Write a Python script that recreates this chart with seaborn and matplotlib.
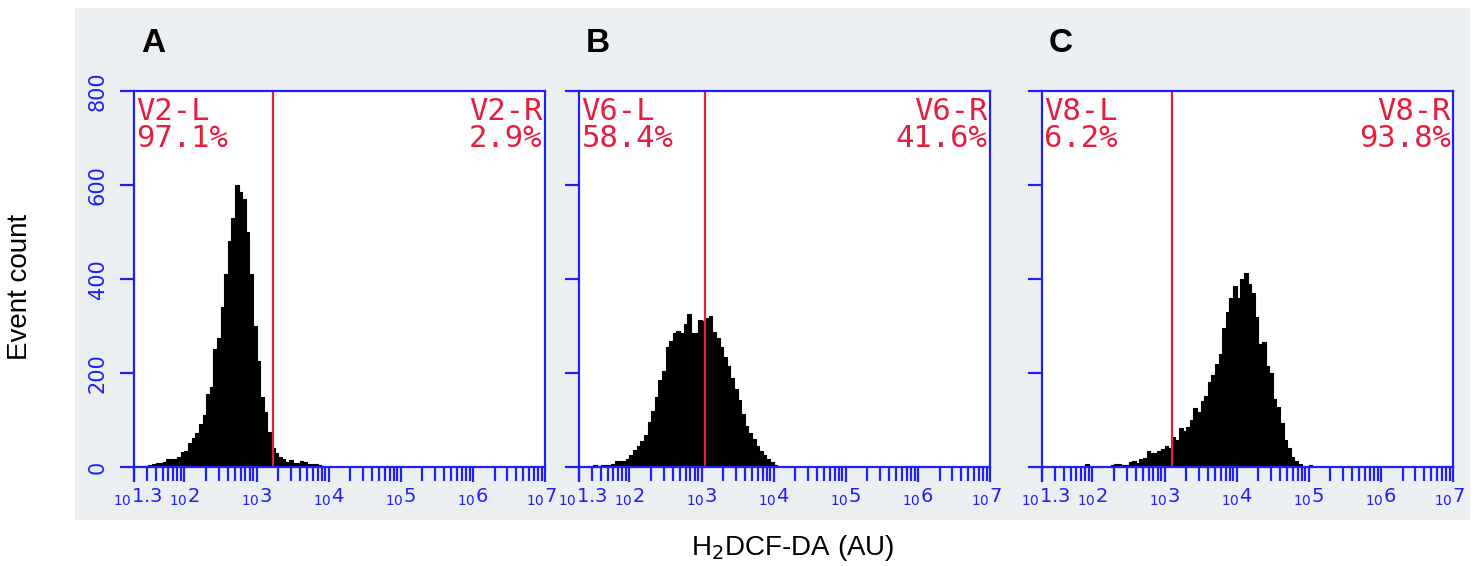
import numpy as np
import pandas as pd
import matplotlib
matplotlib.use("Agg")
import matplotlib.pyplot as plt
from matplotlib.patches import Rectangle
from matplotlib.ticker import FixedLocator, LogLocator, NullFormatter
from matplotlib.transforms import ScaledTranslation
import seaborn as sns

# ---- data -------------------------------------------------------------
# Histogram channels: log10 of the first bin's left edge, bin width in decades
LOG_START = 1.3
LOG_STEP = 0.05

panel_letters = ["A", "B", "C"]
gate_names = ["V2", "V6", "V8"]
gate_left_pct = ["97.1%", "58.4%", "6.2%"]
gate_right_pct = ["2.9%", "41.6%", "93.8%"]
gate_positions = [1690, 1100, 1260]

counts_a = [3, 2, 2, 3, 5, 7, 8, 9, 10, 16, 17, 18, 22, 31, 34, 50, 62, 72, 92,
            110, 155, 170, 250, 275, 340, 410, 480, 530, 600, 585, 570, 500,
            410, 300, 225, 150, 118, 75, 40, 30, 22, 18, 11, 14, 9, 8, 12, 10,
            7, 6, 6, 5, 3]
counts_b = [0, 0, 0, 2, 4, 3, 5, 5, 4, 6, 12, 13, 13, 18, 26, 36, 45, 56, 68,
            95, 120, 150, 185, 205, 255, 268, 285, 290, 286, 305, 325, 285,
            286, 312, 310, 316, 322, 288, 274, 255, 235, 215, 190, 165, 142,
            112, 88, 72, 60, 45, 34, 26, 18, 10, 5, 3]
counts_c = [0, 0, 0, 0, 0, 0, 0, 0, 0, 0, 0, 0, 6, 0, 0, 0, 0, 0, 0, 5, 6, 6,
            5, 4, 10, 12, 8, 16, 20, 33, 30, 30, 34, 38, 44, 40, 64, 58, 84,
            76, 86, 100, 125, 118, 140, 152, 180, 196, 220, 240, 295, 330,
            360, 385, 360, 400, 413, 390, 370, 320, 262, 265, 215, 200, 145,
            128, 93, 57, 40, 22, 12, 6, 2, 0, 5]
panel_counts = [counts_a, counts_b, counts_c]

x_tick_exponents = ["1.3", "2", "3", "4", "5", "6", "7"]
y_ticks = [0, 200, 400, 600, 800]

# ---- style ------------------------------------------------------------
sns.set_theme(style="white")
plt.rcParams["font.family"] = ["Liberation Sans", "DejaVu Sans"]
plt.rcParams["mathtext.fontset"] = "dejavusans"

BLUE = "#2020f5"
RED = "#e41e3c"
PANEL_BG = "#ebeff2"

W, H = 1484, 566
fig = plt.figure(figsize=(W / 100, H / 100), dpi=100)
fig.patches.append(Rectangle((75 / W, 1 - 520 / H), (1470 - 75) / W, (520 - 8) / H,
                             transform=fig.transFigure, facecolor=PANEL_BG,
                             edgecolor="none", zorder=-10))

axes_left_px = [134, 579, 1042]
ax_width_px = 411
ax_top_px, ax_bottom_px = 91, 467

for i, counts in enumerate(panel_counts):
    ax = fig.add_axes([axes_left_px[i] / W, 1 - ax_bottom_px / H,
                       ax_width_px / W, (ax_bottom_px - ax_top_px) / H])
    ax.set_facecolor("white")
    n = len(counts)
    centers = LOG_START + LOG_STEP * (np.arange(n) + 0.5)
    df = pd.DataFrame({"signal": 10 ** centers, "events": counts})
    sns.histplot(data=df, x="signal", weights="events", bins=n,
                 binrange=(LOG_START, LOG_START + n * LOG_STEP),
                 log_scale=True, element="step", fill=True, color="black",
                 edgecolor="black", alpha=1, linewidth=0.8, ax=ax)

    ax.axvline(gate_positions[i], color=RED, lw=1.6, zorder=5)

    ax.set_xlim(10 ** 1.3, 10 ** 7)
    ax.set_ylim(0, 800)
    ax.set_xlabel("")
    ax.set_ylabel("")

    for sp in ax.spines.values():
        sp.set_color(BLUE)
        sp.set_linewidth(1.6)
        sp.set_visible(True)
        sp.set_zorder(7)

    # x axis: decades plus log-minor ticks
    major = [10 ** float(e) for e in x_tick_exponents]
    ax.xaxis.set_major_locator(FixedLocator(major))
    ax.xaxis.set_minor_locator(LogLocator(base=10, subs=np.arange(2, 10), numticks=20))
    ax.xaxis.set_minor_formatter(NullFormatter())
    ax.set_xticklabels([r"$_{10}$" + e for e in x_tick_exponents],
                       fontsize=14, color=BLUE, family="DejaVu Sans")
    ax.tick_params(axis="x", which="major", direction="out", length=11,
                   width=1.6, color=BLUE, pad=3, bottom=True, top=False)
    ax.tick_params(axis="x", which="minor", direction="out", length=10,
                   width=1.6, color=BLUE, bottom=True, top=False)
    # nudge the end labels inward so neighbouring panels' labels don't collide
    xlabels = ax.get_xticklabels()
    for lab, dx in ((xlabels[0], 4), (xlabels[-1], -4)):
        lab.set_transform(lab.get_transform()
                          + ScaledTranslation(dx / 100, 0, fig.dpi_scale_trans))

    ax.set_yticks(y_ticks)
    if i == 0:
        ax.set_yticklabels([str(v) for v in y_ticks], rotation=90, va="center",
                           fontsize=15, color=BLUE, family="DejaVu Sans")
    else:
        ax.set_yticklabels([])
    ax.tick_params(axis="y", direction="out", length=10, width=1.6, color=BLUE,
                   pad=9, left=True, right=False)

    name = gate_names[i]
    ax.text(0.006, 0.985, f"{name}-L\n{gate_left_pct[i]}", transform=ax.transAxes,
            ha="left", va="top", color=RED, fontsize=22, family="DejaVu Sans Mono",
            linespacing=0.95, zorder=6)
    ax.text(0.994, 0.985, f"{name}-R\n{gate_right_pct[i]}", transform=ax.transAxes,
            ha="right", va="top", multialignment="right", color=RED, fontsize=22,
            family="DejaVu Sans Mono", linespacing=0.95, zorder=6)

    fig.text((axes_left_px[i] + 7) / W, 1 - 52 / H, panel_letters[i],
             ha="left", va="baseline", fontsize=24, fontweight="bold", color="black")

fig.text(20 / W, 1 - 287 / H, "Event count", rotation=90, ha="center", va="center",
         fontsize=20, color="black")
fig.text(793 / W, 1 - 548 / H, "H$_2$DCF-DA (AU)", ha="center", va="center",
         fontsize=20, color="black")

fig.savefig("out.png", dpi=100, facecolor="white")
